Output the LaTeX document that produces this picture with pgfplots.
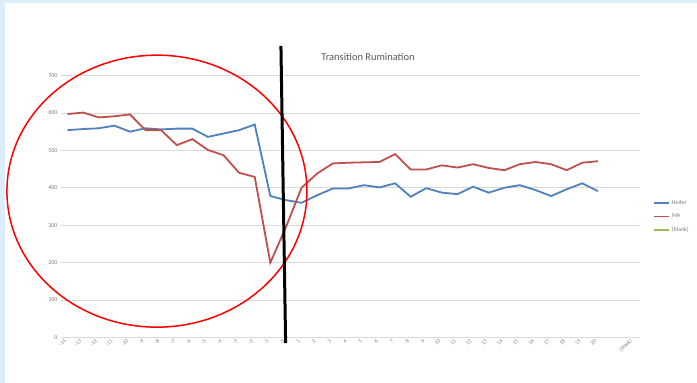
\documentclass[border=0pt]{standalone}
\usepackage{pgfplots}
\pgfplotsset{compat=1.18}
\usepackage{fontspec}
\setmainfont{Carlito}
\definecolor{bgblue}{HTML}{DCEEFB}
\definecolor{heifer}{HTML}{4F81BD}
\definecolor{ma}{HTML}{C0504D}
\definecolor{blankc}{HTML}{9BBB59}
\definecolor{gridc}{HTML}{D9D9D9}
\definecolor{txt}{HTML}{7F7F7F}
\definecolor{titlec}{HTML}{595959}

\begin{document}
\begin{tikzpicture}
\fill[bgblue] (0,0) rectangle (697bp,383bp);
\fill[white] (5bp,0) rectangle (697bp,380bp);
\begin{axis}[
  at={(61bp,45.5bp)}, anchor=south west,
  scale only axis, width=579bp, height=262bp,
  xmin=-14.42, xmax=22.7, ymin=0, ymax=700,
  axis line style={draw=none},
  tick style={draw=none},
  ytick={0,100,...,700},
  ymajorgrids, grid style={gridc, line width=0.8bp},
  xtick={-14,-13,...,20},
  extra x ticks={22.3}, extra x tick labels={(blank)},
  extra x tick style={grid=none},
  xticklabel style={rotate=45, anchor=east, font=\fontsize{5.5}{6}\selectfont, text=txt},
  yticklabel style={font=\fontsize{6}{7}\selectfont, text=txt},
  /pgf/number format/assume math mode=true,
  clip=false,
  legend style={at={(1.017,0.54)}, anchor=north west, draw=none, fill=none,
    font=\fontsize{6}{7}\selectfont, text=txt, row sep=4bp},
  legend cell align=left,
  legend image code/.code={\draw[#1] (0bp,0bp) -- (15bp,0bp);},
]
\addplot[heifer, line width=1.8bp] coordinates {
(-14,554) (-13,557) (-12,559) (-11,566) (-10,550) (-9,559) (-8,556) (-7,558) (-6,558)
(-5,536) (-4,545) (-3,554) (-2,569) (-1,378) (0,367) (1,360) (2,380) (3,398) (4,398)
(5,407) (6,401) (7,412) (8,376) (9,399) (10,387) (11,383) (12,403) (13,387) (14,400)
(15,407) (16,394) (17,378) (18,396) (19,412) (20,391)
};
\addlegendentry{Heifer}
\addplot[ma, line width=1.8bp] coordinates {
(-14,597) (-13,601) (-12,588) (-11,591) (-10,596) (-9,554) (-8,554) (-7,514) (-6,530)
(-5,501) (-4,487) (-3,440) (-2,429) (-1,200) (0,295) (1,400) (2,438) (3,465) (4,467)
(5,468) (6,469) (7,490) (8,449) (9,449) (10,460) (11,454) (12,463) (13,453) (14,447)
(15,463) (16,469) (17,463) (18,447) (19,467) (20,471)
};
\addlegendentry{MA}
\addlegendimage{blankc, line width=1.8bp}
\addlegendentry{(blank)}
\draw[red, line width=1.5bp] (axis cs:-8.27,391) ellipse [x radius=150bp, y radius=136bp];
\draw[black, line width=3bp] (axis cs:-0.32,779) -- (axis cs:-0.02,-15);
\node[text=titlec, font=\fontsize{10.5}{12}\selectfont] at (axis cs:5.26,749) {Transition Rumination};
\end{axis}
\pgfresetboundingbox
\useasboundingbox (0,0) rectangle (697bp,383bp);
\end{tikzpicture}
\end{document}
